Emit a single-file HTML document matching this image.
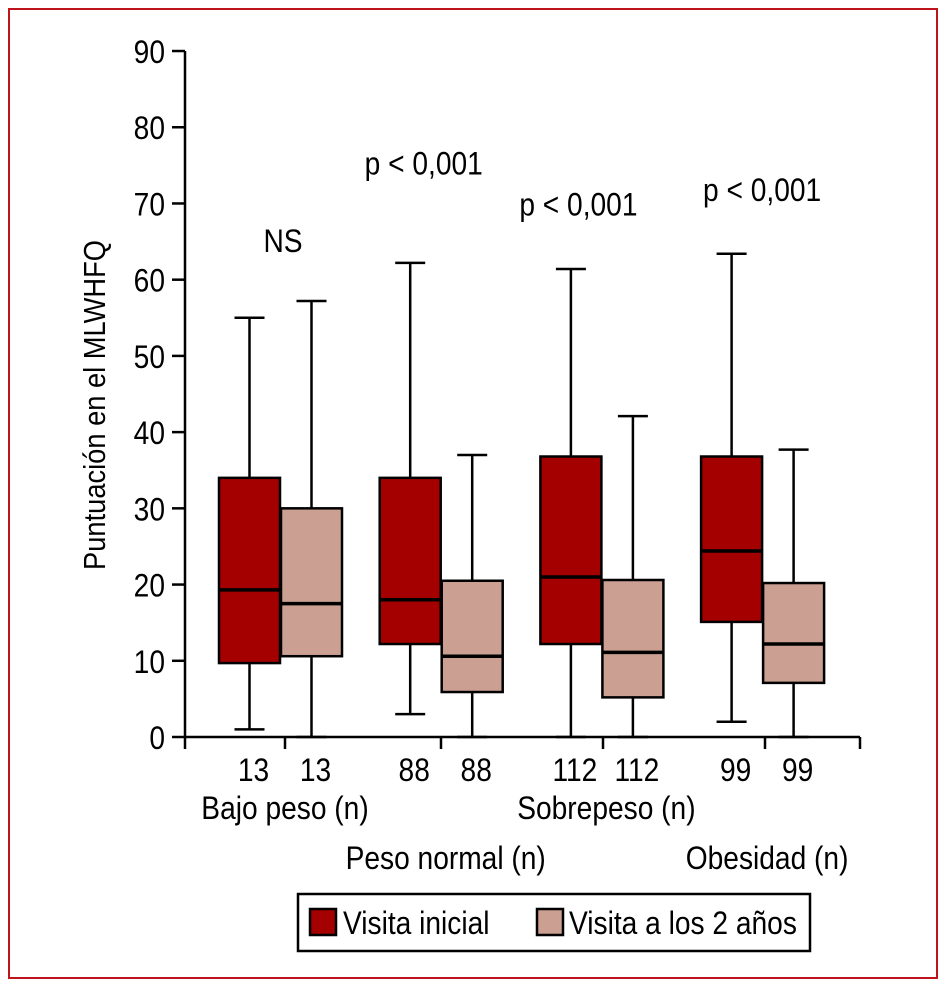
<!DOCTYPE html>
<html><head><meta charset="utf-8"><style>
html,body{margin:0;padding:0;background:#fff;}
svg text{font-family:"Liberation Sans Narrow","Liberation Sans",sans-serif;fill:#000;}
</style></head><body>
<svg id="chart" width="946" height="987" xmlns="http://www.w3.org/2000/svg">
<rect x="9" y="9" width="928" height="969" fill="none" stroke="#c0141c" stroke-width="2"/>
<g id="plot"></g>
</svg>
<script>
const groups = ["Bajo peso (n)","Peso normal (n)","Sobrepeso (n)","Obesidad (n)"];
const counts = [13, 88, 112, 99];
const pLabels = ["NS","p < 0,001","p < 0,001","p < 0,001"];
const pValuesY = [65.2, 75.4, 70, 71.9];
const yTicks = [0,10,20,30,40,50,60,70,80,90];
// [min, q1, median, q3, max]
const initialStats = [[1,9.7,19.3,34,55],[3,12.2,18,34,62.2],[0,12.2,21,36.8,61.4],[2,15.1,24.4,36.8,63.4]];
const followStats = [[0,10.6,17.5,30,57.2],[0,5.9,10.6,20.5,37],[0,5.2,11.1,20.6,42.1],[0,7.1,12.2,20.2,37.7]];

const NS="http://www.w3.org/2000/svg";
const g=document.getElementById('plot');
const y0=737, yPer=76.22/10;
const SX=0.88, FS=32;
const pShift=[2,-18,-24,-1];
function yS(v){return y0 - v*yPer;}
function xGroup(i){return 281 + i*160.7;}
const bw=61;
function mk(tag,attrs,parent){const e=document.createElementNS(NS,tag);for(const k in attrs)e.setAttribute(k,attrs[k]);(parent||g).appendChild(e);return e;}
function txt(x,y,anchor,s){
  const t=mk('text',{x:0,y:0,'text-anchor':anchor,'font-size':FS,transform:'translate('+x+','+y+') scale('+SX+',1)'});
  t.textContent=s;return t;
}

let ax=mk('line',{x1:185,y1:yS(90),x2:185,y2:y0,stroke:'#000','stroke-width':2.5});


let xa=mk('line',{x1:185,y1:y0,x2:860,y2:y0,stroke:'#000','stroke-width':2.5});


yTicks.forEach(t=>{
  const l=mk('line',{x1:172,y1:yS(t),x2:185,y2:yS(t),stroke:'#000','stroke-width':2.5});
  
  
  const tx=txt(165,yS(t)+12,'end',t);
  
  
});
[185,285,441,603,765,860].forEach(x=>{
  const l=mk('line',{x1:x,y1:y0,x2:x,y2:y0+12,stroke:'#000','stroke-width':2.5});
  
  
});
const yt=mk('text',{x:0,y:0,'font-size':31,'text-anchor':'middle',transform:'translate(105,405) rotate(-90) scale(0.88,1)'});
yt.textContent='Puntuación en el MLWHFQ';



function drawBox(s,x,color,name){
  const cx=x+bw/2;
  const w=mk('line',{x1:cx,y1:yS(s[0]),x2:cx,y2:yS(s[4]),stroke:'#000','stroke-width':2.5});
  
  
  [s[0],s[4]].forEach(v=>{const c=mk('line',{x1:cx-15,y1:yS(v),x2:cx+15,y2:yS(v),stroke:'#000','stroke-width':2.5});
    
    });
  const r=mk('rect',{x:x,y:yS(s[3]),width:bw,height:yS(s[1])-yS(s[3]),fill:color,stroke:'#000','stroke-width':2.5});
  
  
  const m=mk('line',{x1:x,y1:yS(s[2]),x2:x+bw,y2:yS(s[2]),stroke:'#000','stroke-width':3.5});
  
  
}
groups.forEach((gname,i)=>{
  const xc=xGroup(i);
  drawBox(initialStats[i],xc-bw-1,'#a50000','initial-'+i);
  drawBox(followStats[i],xc,'#cc9f93','followup-'+i);
  [xc-bw/2-1,xc+bw/2].forEach(x=>{
    const t=txt(x+4,781,'middle',counts[i]);
    
    
  });
  const gl=txt(xc+4,i%2===0?819:869,'middle',gname);
  
  
  const pl=txt(xc+pShift[i],yS(pValuesY[i])+12,'middle',pLabels[i]);
  
  
});
</script>
<svg style="position:absolute;left:0;top:0" width="946" height="987" xmlns="http://www.w3.org/2000/svg">
<rect x="298" y="894" width="512" height="57" fill="#fff" stroke="#000" stroke-width="2.5"/>
<rect x="310" y="909" width="26" height="26" fill="#a50000" stroke="#000" stroke-width="2.5"/>
<text x="0" y="0" font-size="32" transform="translate(343,934) scale(0.88,1)">Visita inicial</text>
<rect x="537" y="909" width="26" height="26" fill="#cc9f93" stroke="#000" stroke-width="2.5"/>
<text x="0" y="0" font-size="32" transform="translate(569,934) scale(0.88,1)">Visita a los 2 años</text>
</svg>
</body></html>
